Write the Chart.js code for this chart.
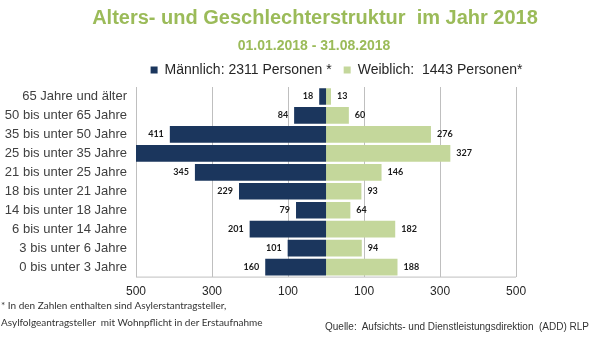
<!DOCTYPE html>
<html lang="de">
<head>
  <meta charset="UTF-8">
  <title>Alters- und Geschlechterstruktur im Jahr 2018</title>
  <script src="https://cdn.jsdelivr.net/npm/chart.js"></script>
  <style>
    body { margin: 0; background: #fff; overflow: hidden; }
    .container { position: relative; width: 600px; height: 339px; font-family: "Liberation Sans", Arial, sans-serif; }
    #graficoPyramide { position: absolute; left: 0; top: 0; }
    .titel { position: absolute; left: 15px; width: 600px; top: 7px; line-height: 20px; text-align: center;
             font-size: 20px; font-weight: bold; color: #9BBB59; white-space: pre; }
    .untertitel { position: absolute; left: 14px; width: 600px; top: 38px; line-height: 14px; text-align: center;
                  font-size: 14px; font-weight: bold; color: #9BBB59; }
    .fussnote { position: absolute; left: 1px; top: 297px; font-family: Lato, sans-serif; font-size: 10px;
                line-height: 17px; color: #333; white-space: pre; }
    .quelle { position: absolute; left: 325px; top: 321px; font-size: 10px; line-height: 12px; color: #333; white-space: pre; }
  </style>
</head>
<body>
  <div class="container">
    <canvas id="graficoPyramide" width="600" height="339"></canvas>
    <div class="titel">Alters- und Geschlechterstruktur  im Jahr 2018</div>
    <div class="untertitel">01.01.2018 - 31.08.2018</div>
    <div class="fussnote">* In den Zahlen enthalten sind Asylerstantragsteller,
Asylfolgeantragsteller  mit Wohnpflicht in der Erstaufnahme</div>
    <div class="quelle">Quelle:  Aufsichts- und Dienstleistungsdirektion  (ADD) RLP</div>
  </div>

  <script>
    // Altersgruppen von oben nach unten
    const altersgruppen = [
      '65 Jahre und älter', '50 bis unter 65 Jahre', '35 bis unter 50 Jahre', '25 bis unter 35 Jahre',
      '21 bis unter 25 Jahre', '18 bis unter 21 Jahre', '14 bis unter 18 Jahre', '6 bis unter 14 Jahre',
      '3 bis unter 6 Jahre', '0 bis unter 3 Jahre'
    ];
    // 25-35 männlich: Rest aus 2311 Personen (Balken ragt über die Achse hinaus)
    const maennlich = [18, 84, 411, 683, 345, 229, 79, 201, 101, 160];
    const weiblich = [13, 60, 276, 327, 146, 93, 64, 182, 94, 188];
    const achsenTicks = [-500, -300, -100, 100, 300, 500];
    const legendeMaennlich = 'Männlich: 2311 Personen *';
    const legendeWeiblich = 'Weiblich:  1443 Personen*';

    Chart.defaults.font.family = "'Liberation Sans', Arial, sans-serif";
    Chart.defaults.color = '#262626';

    // Werte neben die Balkenenden schreiben
    const wertBeschriftung = {
      id: 'wertBeschriftung',
      afterDatasetsDraw(chart) {
        const ctx = chart.ctx;
        const xScale = chart.scales.x;
        ctx.save();
        ctx.font = 'bold 9px Lato, sans-serif';
        ctx.fillStyle = '#1a1a1a';
        ctx.textBaseline = 'middle';
        chart.data.datasets.forEach((ds, i) => {
          chart.getDatasetMeta(i).data.forEach((bar, j) => {
            const v = ds.data[j];
            if (v < xScale.min || v > xScale.max) return;
            const label = String(Math.abs(v));
            if (v < 0) {
              ctx.textAlign = 'right';
              ctx.fillText(label, bar.x - 6, bar.y);
            } else {
              ctx.textAlign = 'left';
              ctx.fillText(label, bar.x + 6, bar.y);
            }
          });
        });
        ctx.restore();
      }
    };

    // Grundlinie unten nur zwischen -500 und 500
    const grundlinie = {
      id: 'grundlinie',
      afterDraw(chart) {
        const {ctx, chartArea, scales} = chart;
        ctx.save();
        ctx.strokeStyle = '#BFBFBF';
        ctx.lineWidth = 1;
        ctx.beginPath();
        ctx.moveTo(scales.x.getPixelForValue(achsenTicks[0]), chartArea.bottom + 0.5);
        ctx.lineTo(scales.x.getPixelForValue(achsenTicks[achsenTicks.length - 1]), chartArea.bottom + 0.5);
        ctx.stroke();
        ctx.restore();
      }
    };

    const ctx = document.getElementById('graficoPyramide').getContext('2d');
    new Chart(ctx, {
      type: 'bar',
      data: {
        labels: altersgruppen,
        datasets: [{
          label: legendeMaennlich,
          data: maennlich.map(v => -v),
          backgroundColor: '#1B365D',
          borderWidth: 0,
          barPercentage: 1,
          categoryPercentage: 0.88
        }, {
          label: legendeWeiblich,
          data: weiblich,
          backgroundColor: '#C4D79B',
          borderWidth: 0,
          barPercentage: 1,
          categoryPercentage: 0.88
        }]
      },
      options: {
        indexAxis: 'y',
        responsive: false,
        animation: false,
        layout: { padding: { left: 0, right: 63, top: 51, bottom: 32 } },
        scales: {
          x: {
            stacked: true,
            min: -500,
            max: 555,
            afterBuildTicks: (scale) => { scale.ticks = achsenTicks.map(v => ({ value: v })); },
            ticks: {
              callback: (v) => Math.abs(v),
              font: { size: 12 },
              color: '#262626',
              padding: 8,
              maxRotation: 0
            },
            grid: { color: '#BFBFBF', drawTicks: false },
            border: { display: false }
          },
          y: {
            stacked: true,
            afterFit: (scale) => { scale.width = 136; },
            ticks: { font: { size: 13 }, color: '#404040', padding: 9, autoSkip: false },
            grid: { display: false, drawTicks: false },
            border: { display: false }
          }
        },
        plugins: {
          legend: {
            position: 'top',
            fullSize: false,
            labels: { boxWidth: 7, boxHeight: 7, padding: 12, font: { size: 14 }, color: '#262626' }
          },
          tooltip: { enabled: false }
        }
      },
      plugins: [wertBeschriftung, grundlinie]
    });
  </script>
</body>
</html>
